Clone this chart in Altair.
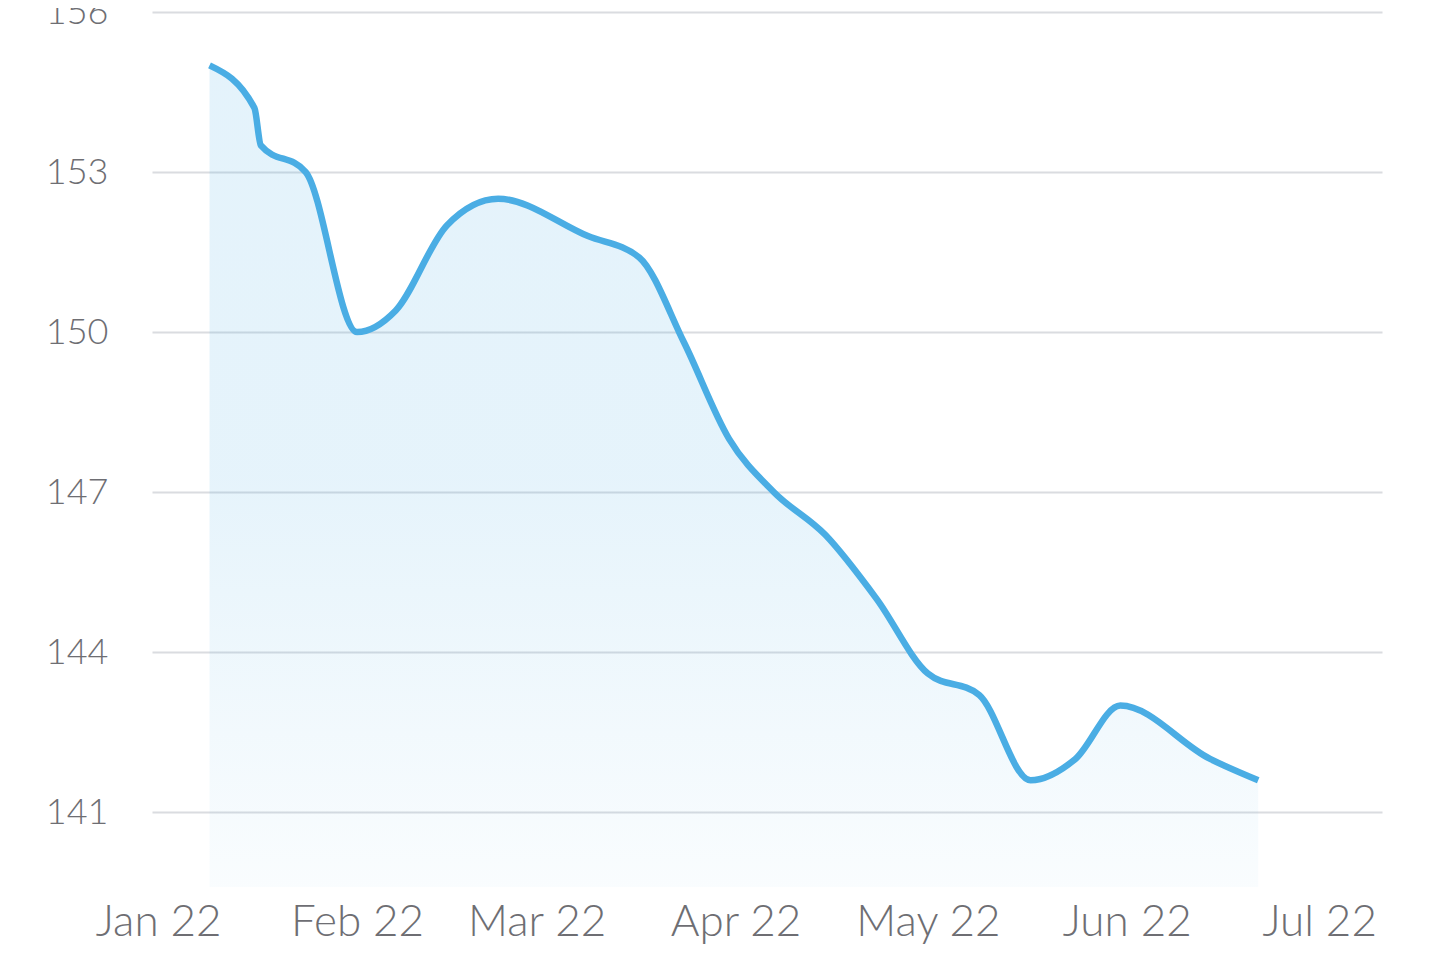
import altair as alt
import pandas as pd

# weigh-in dates and values
dates = [
    "2022-01-09T00:00:00Z", "2022-01-16T00:00:00Z", "2022-01-17T00:00:00Z",
    "2022-01-24T00:00:00Z", "2022-02-01T00:00:00Z", "2022-02-07T00:00:00Z",
    "2022-02-15T00:00:00Z", "2022-02-23T00:00:00Z", "2022-03-09T00:00:00Z",
    "2022-03-17T00:00:00Z", "2022-03-24T00:00:00Z", "2022-03-31T00:00:00Z",
    "2022-04-07T00:00:00Z", "2022-04-15T00:00:00Z", "2022-04-23T00:00:00Z",
    "2022-05-01T00:00:00Z", "2022-05-09T00:00:00Z", "2022-05-17T00:00:00Z",
    "2022-05-24T00:00:00Z", "2022-05-31T00:00:00Z", "2022-06-14T00:00:00Z",
    "2022-06-21T12:00:00Z",
]
weights = [
    155.0, 154.2, 153.5, 153.0, 150.0, 150.4, 152.0, 152.5, 151.8, 151.4,
    149.8, 148.0, 147.0, 146.2, 145.0, 143.6, 143.2, 141.6, 142.0, 143.0,
    142.0, 141.6,
]
y_ticks = [141, 144, 147, 150, 153, 156]
y_domain = [139.6, 156]
month_ticks = [1, 2, 3, 4, 5, 6, 7]

df = pd.DataFrame({"date": dates, "weight": weights})

LINE = "#4AADE4"
TEXT = "#6E6E73"
FONT = "Lato"

x_enc = alt.X(
    "date:T",
    scale=alt.Scale(
        type="utc",
        domain=[
            alt.DateTime(year=2021, month=12, date=31, hours=0, minutes=43, utc=True),
            alt.DateTime(year=2022, month=7, date=10, hours=19, minutes=12, utc=True),
        ],
    ),
    axis=alt.Axis(
        values=[alt.DateTime(year=2022, month=m, date=1, utc=True) for m in month_ticks],
        format="%b %y",
        title=None,
        domain=False,
        ticks=False,
        tickSize=0,
        grid=False,
        labelPadding=13,
        labelFontSize=44,
        labelFont=FONT,
        labelFontWeight=300,
        labelColor=TEXT,
        labelFlush=False,
        labelOverlap=False,
    ),
)
y_enc = alt.Y(
    "weight:Q",
    scale=alt.Scale(domain=y_domain, nice=False, zero=False),
    axis=alt.Axis(
        values=y_ticks,
        title=None,
        domain=False,
        ticks=False,
        tickSize=0,
        grid=True,
        gridColor="#DADCE0",
        gridWidth=2,
        labelPadding=44,
        labelFontSize=36,
        labelFont=FONT,
        labelFontWeight=300,
        labelColor=TEXT,
        labelOverlap=False,
    ),
)

base = alt.Chart(df).encode(x=x_enc, y=y_enc)

area = base.mark_area(
    interpolate="monotone",
    color=alt.Gradient(
        gradient="linear",
        stops=[
            alt.GradientStop(color="rgba(74,173,228,0.15)", offset=0),
            alt.GradientStop(color="rgba(74,173,228,0.14)", offset=0.5),
            alt.GradientStop(color="rgba(74,173,228,0.03)", offset=1),
        ],
        x1=1, x2=1, y1=0, y2=1,
    ),
).encode(y2=alt.datum(y_domain[0]))

line = base.mark_line(interpolate="monotone", color=LINE, strokeWidth=6.5, strokeCap="butt")

chart = (
    (area + line)
    .properties(
        width=1230,
        height=875,
        autosize=alt.AutoSizeParams(type="none"),
        padding={"left": 144, "top": 4, "right": 40, "bottom": 60},
    )
    .configure_view(stroke=None)
)

chart.save("out.html", embed_options={"renderer": "svg", "actions": False})
